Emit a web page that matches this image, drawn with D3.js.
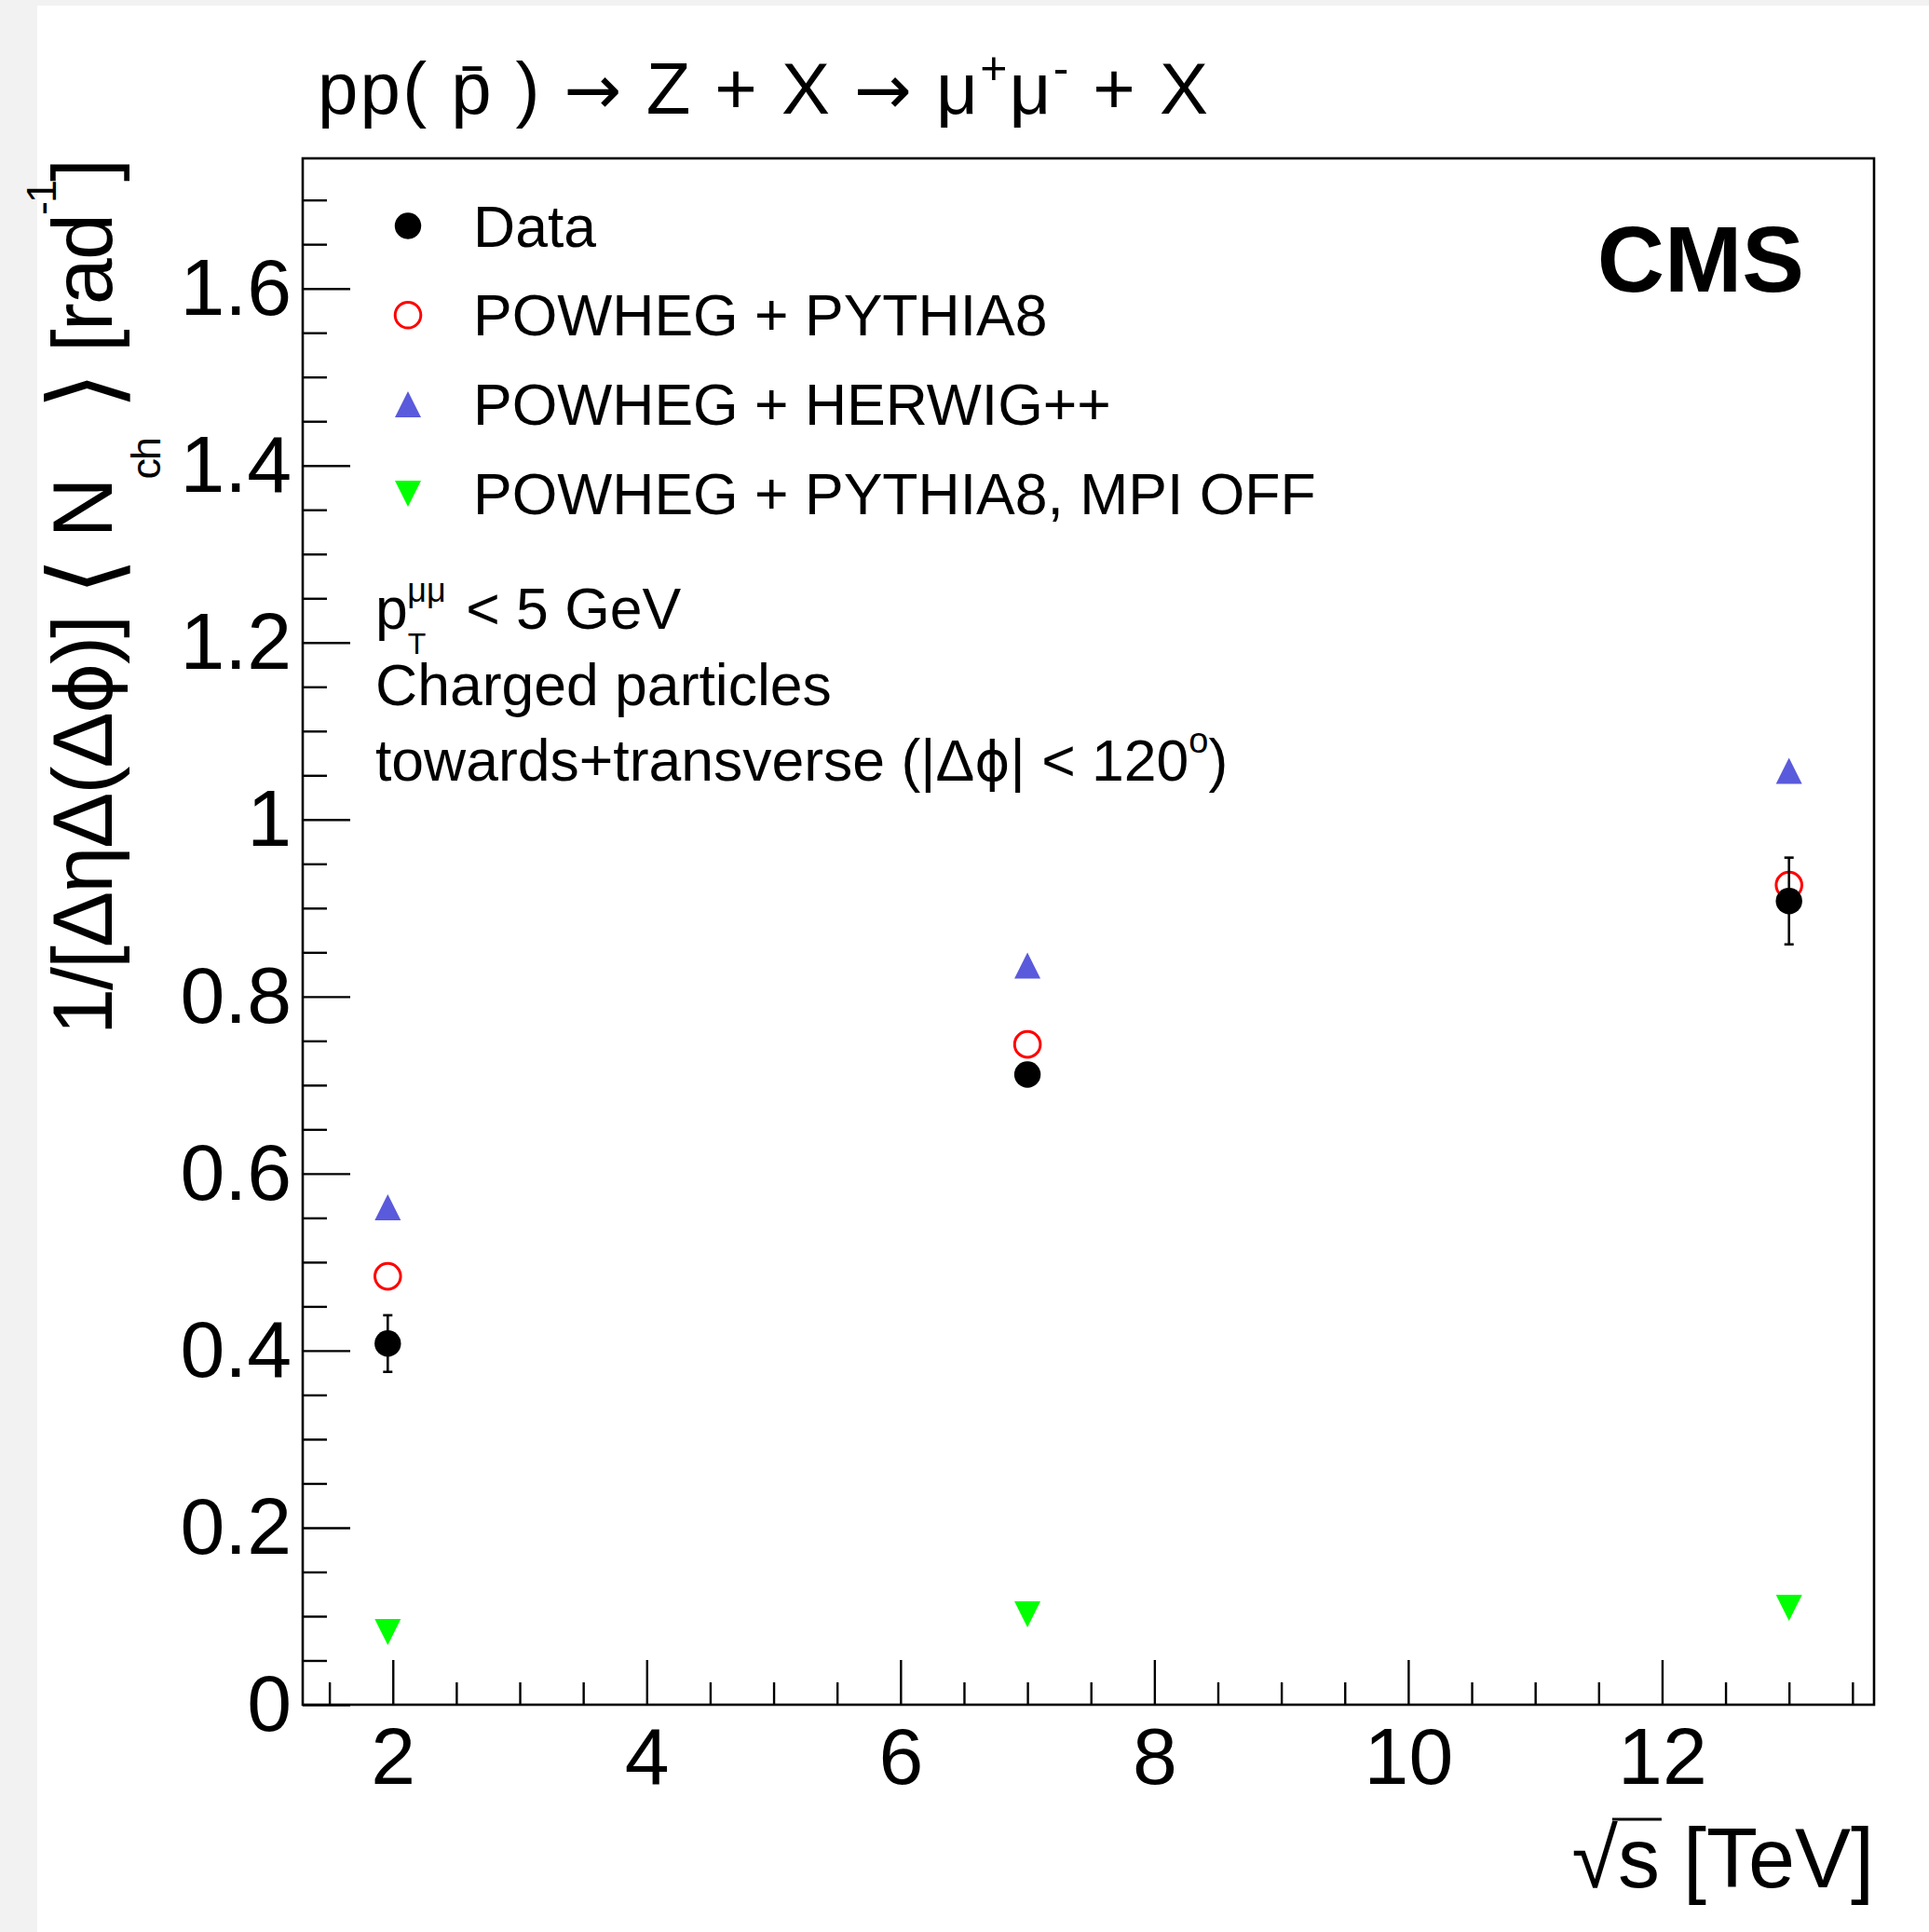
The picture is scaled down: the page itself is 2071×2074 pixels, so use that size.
<!DOCTYPE html>
<html><head><meta charset="utf-8">
<script src="https://cdn.jsdelivr.net/npm/d3@7"></script>
<style>
body{margin:0;background:#f2f2f2;}
svg{display:block;}
text{font-family:"Liberation Sans",Arial,Helvetica,sans-serif;fill:#000;}
</style>
</head><body>
<svg id="c" width="2071" height="2074"></svg>
<script>
// ---------- data ----------
const sqrtS    = [1.96, 7, 13];
const dataVals = [0.408, 0.712, 0.908];
const dataErr  = [0.032, 0.012, 0.049];
const pythia8  = [0.484, 0.746, 0.926];
const herwig   = [0.562, 0.835, 1.055];
const mpiOff   = [0.082, 0.102, 0.1095];

const xTickValues = [2, 4, 6, 8, 10, 12];
const xTickLabels = ["2", "4", "6", "8", "10", "12"];
const yTickValues = [0, 0.2, 0.4, 0.6, 0.8, 1.0, 1.2, 1.4, 1.6];
const yTickLabels = ["0", "0.2", "0.4", "0.6", "0.8", "1", "1.2", "1.4", "1.6"];
const legendLabels = ["Data", "POWHEG + PYTHIA8", "POWHEG + HERWIG++", "POWHEG + PYTHIA8, MPI OFF"];

// ---------- layout ----------
const svg = d3.select("#c");
svg.append("rect").attr("x", 40).attr("y", 6).attr("width", 2031).attr("height", 2068).attr("fill", "#fff");

const L = 325, R = 2012, T = 170, B = 1830;
const x = d3.scaleLinear().domain([1.29, 13.67]).range([L, R]);
const y = d3.scaleLinear().domain([0, 1.747]).range([B, T]);

const BLUE = "#5a5adc", GREEN = "#00ff00", RED = "#ff0000";

// minor ticks
const xMinor = d3.range(3, 28).map(i => i / 2).filter(v => xTickValues.indexOf(v) < 0);
const yMinor = d3.range(0, 35).map(i => i / 20).filter(v => !yTickValues.some(t => Math.abs(t - v) < 1e-9));

function styleAxis(g) {
  g.select(".domain").remove();
  g.selectAll(".tick line").attr("stroke", "#000").attr("stroke-width", 2.4);
  g.selectAll("text").attr("font-size", 86).attr("font-family", '"Liberation Sans",Arial,sans-serif').attr("fill", "#000");
}

// x axis
svg.append("g").attr("transform", `translate(0,${B})`)
  .call(d3.axisBottom(x).tickValues(xTickValues).tickSizeInner(-48).tickSizeOuter(0).tickPadding(24)
    .tickFormat((d, i) => xTickLabels[i]))
  .call(styleAxis);
svg.append("g").attr("transform", `translate(0,${B})`)
  .call(d3.axisBottom(x).tickValues(xMinor).tickSizeInner(-24).tickSizeOuter(0).tickFormat(""))
  .call(styleAxis);

// y axis
svg.append("g").attr("transform", `translate(${L},0)`)
  .call(d3.axisLeft(y).tickValues(yTickValues).tickSizeInner(-51).tickSizeOuter(0).tickPadding(12)
    .tickFormat((d, i) => yTickLabels[i]))
  .call(styleAxis);
svg.append("g").attr("transform", `translate(${L},0)`)
  .call(d3.axisLeft(y).tickValues(yMinor).tickSizeInner(-26).tickSizeOuter(0).tickFormat(""))
  .call(styleAxis);

// frame
svg.append("rect").attr("x", L).attr("y", T).attr("width", R - L).attr("height", B - T)
  .attr("fill", "none").attr("stroke", "#000").attr("stroke-width", 2.6);

// ---------- markers ----------
const triUp = s => `M0,${-s}L${s},${s}L${-s},${s}Z`;
const triDown = s => `M0,${s}L${s},${-s}L${-s},${-s}Z`;

function drawTri(sel, xs, ys, up, color) {
  sel.selectAll(null).data(xs).enter().append("path")
    .attr("transform", (d, i) => `translate(${x(d)},${y(ys[i])})`)
    .attr("d", up ? triUp(14) : triDown(14)).attr("fill", color);
}
const gm = svg.append("g");
drawTri(gm, sqrtS, herwig, true, BLUE);
drawTri(gm, sqrtS, mpiOff, false, GREEN);

gm.selectAll(null).data(sqrtS).enter().append("circle")
  .attr("cx", d => x(d)).attr("cy", (d, i) => y(pythia8[i])).attr("r", 13.8)
  .attr("fill", "none").attr("stroke", RED).attr("stroke-width", 3);

// data with errors
const ge = gm.selectAll(null).data(sqrtS).enter().append("g");
ge.append("line").attr("x1", d => x(d)).attr("x2", d => x(d))
  .attr("y1", (d, i) => y(dataVals[i] - dataErr[i])).attr("y2", (d, i) => y(dataVals[i] + dataErr[i]))
  .attr("stroke", "#000").attr("stroke-width", 2.6);
[-1, 1].forEach(s => {
  ge.append("line").attr("x1", d => x(d) - 5).attr("x2", d => x(d) + 5)
    .attr("y1", (d, i) => y(dataVals[i] + s * dataErr[i])).attr("y2", (d, i) => y(dataVals[i] + s * dataErr[i]))
    .attr("stroke", "#000").attr("stroke-width", 2.6);
});
ge.append("circle").attr("cx", d => x(d)).attr("cy", (d, i) => y(dataVals[i])).attr("r", 14.2).attr("fill", "#000");

// ---------- legend ----------
const lg = svg.append("g");
const lx = 438, ly0 = 242.5, ldy = 95.8;
legendLabels.forEach((lab, i) => {
  const yy = ly0 + i * ldy;
  if (i === 0) lg.append("circle").attr("cx", lx).attr("cy", yy).attr("r", 14.2).attr("fill", "#000");
  if (i === 1) lg.append("circle").attr("cx", lx).attr("cy", yy).attr("r", 13.8).attr("fill", "none").attr("stroke", RED).attr("stroke-width", 3);
  if (i === 2) lg.append("path").attr("transform", `translate(${lx},${yy})`).attr("d", triUp(14)).attr("fill", BLUE);
  if (i === 3) lg.append("path").attr("transform", `translate(${lx},${yy})`).attr("d", triDown(14)).attr("fill", GREEN);
  lg.append("text").attr("x", 508).attr("y", yy + 22).attr("font-size", 62.5).text(lab);
});

// ---------- CMS ----------
svg.append("text").attr("x", 1937).attr("y", 313).attr("text-anchor", "end")
  .attr("font-size", 100).attr("font-weight", "bold").text("CMS");

// ---------- annotations ----------
const AF = 62.5;
const a1 = svg.append("text").attr("x", 403).attr("y", 675).attr("font-size", AF);
a1.append("tspan").text("p");
a1.append("tspan").attr("font-size", 32).attr("dy", 27).text("T");
a1.append("tspan").attr("font-size", 36).attr("dy", -56).attr("dx", -20).text("μμ");
a1.append("tspan").attr("dy", 29).attr("dx", 4).text(" < 5 GeV");
svg.append("text").attr("x", 403).attr("y", 757).attr("font-size", AF).text("Charged particles");
const a3 = svg.append("text").attr("x", 403).attr("y", 838).attr("font-size", AF);
a3.append("tspan").text("towards+transverse (|Δ");
a3.append("tspan").attr("font-family", '"DejaVu Sans",sans-serif').attr("font-size", 58).text("\u03D5");
a3.append("tspan").text("| < 120");
a3.append("tspan").attr("font-size", 38).attr("dy", -30).text("o");
a3.append("tspan").attr("dy", 30).text(")");

// ---------- title ----------
const ARROW = '"DejaVu Sans",sans-serif';
const tt = svg.append("text").attr("x", 341).attr("y", 122).attr("font-size", 78)
  .attr("textLength", 956).attr("lengthAdjust", "spacing");
tt.append("tspan").text("pp(  p\u0304  ) ");
tt.append("tspan").attr("font-family", ARROW).attr("font-size", 74).text("\u2192");
tt.append("tspan").text(" Z + X ");
tt.append("tspan").attr("font-family", ARROW).attr("font-size", 74).text("\u2192");
tt.append("tspan").text("  μ");
tt.append("tspan").attr("font-size", 50).attr("dy", -32).text("+");
tt.append("tspan").attr("dy", 32).text("μ");
tt.append("tspan").attr("font-size", 50).attr("dy", -32).text("-");
tt.append("tspan").attr("dy", 32).text(" + X");

// ---------- x title ----------
const xt = svg.append("text").attr("x", 2012).attr("y", 2026).attr("font-size", 90).attr("text-anchor", "end");
xt.append("tspan").text("\u221A");
xt.append("tspan").text("s");
xt.append("tspan").text(" [TeV]");
(function () {
  const node = xt.node();
  const e = node.getEndPositionOfChar(1);
  const bb = node.getExtentOfChar(0);
  svg.append("line").attr("x1", bb.x + bb.width - 6).attr("x2", e.x + 2)
    .attr("y1", bb.y + 8).attr("y2", bb.y + 8).attr("stroke", "#000").attr("stroke-width", 3);
})();

// ---------- y title ----------
const BR = '"DejaVu Sans",sans-serif';
const yt = svg.append("text").attr("transform", "translate(120,170) rotate(-90)")
  .attr("text-anchor", "end").attr("font-size", 90)
  .attr("textLength", 941).attr("lengthAdjust", "spacing");
yt.append("tspan").text("1/[ΔηΔ(Δ");
yt.append("tspan").attr("font-family", BR).attr("font-size", 84).text("\u03D5");
yt.append("tspan").text(")] ");
yt.append("tspan").attr("font-family", BR).attr("font-size", 104).attr("dy", 6).text("\u27E8");
yt.append("tspan").attr("dy", -6).text(" N");
yt.append("tspan").attr("font-size", 45).attr("dy", 52).text("ch");
yt.append("tspan").attr("dy", -46).attr("font-family", BR).attr("font-size", 104).text(" \u27E9");
yt.append("tspan").attr("dy", -6).text(" [rad");
yt.append("tspan").attr("font-size", 45).attr("dy", -60).text("-1");
yt.append("tspan").attr("dy", 60).text("]");
</script>
</body></html>
